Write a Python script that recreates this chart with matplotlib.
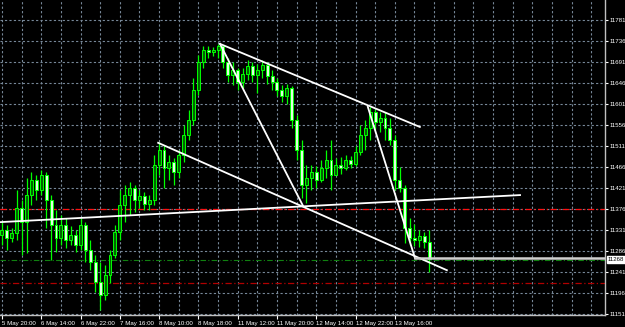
import matplotlib
matplotlib.use('Agg')
import matplotlib.pyplot as plt
import numpy as np

# hourly candles, DAX-like index (bar index on x, price on y)
opens = [11320, 11331, 11314, 11325, 11378, 11348, 11406, 11438, 11417, 11449,
         11395, 11342, 11314, 11342, 11310, 11320, 11299, 11342, 11288, 11263,
         11220, 11192, 11235, 11278, 11327, 11385, 11406, 11421, 11395, 11404,
         11387, 11395, 11470, 11503, 11464, 11477, 11455, 11492, 11535, 11567,
         11631, 11691, 11717, 11713, 11717, 11725, 11691, 11663, 11674, 11648,
         11665, 11683, 11663, 11674, 11685, 11661, 11648, 11631, 11618, 11635,
         11567, 11503, 11428, 11443, 11455, 11438, 11464, 11481, 11449, 11470,
         11464, 11481, 11473, 11498, 11535, 11550, 11584, 11563, 11571, 11550,
         11524, 11438, 11421, 11335, 11314, 11310, 11318, 11305]
closes = [11331, 11314, 11325, 11378, 11348, 11406, 11438, 11417, 11449, 11395,
          11342, 11314, 11342, 11310, 11320, 11299, 11342, 11288, 11263, 11220,
          11192, 11235, 11278, 11327, 11385, 11406, 11421, 11395, 11404, 11387,
          11395, 11470, 11503, 11464, 11477, 11455, 11492, 11535, 11567, 11631,
          11691, 11717, 11713, 11717, 11725, 11691, 11663, 11674, 11648, 11665,
          11683, 11663, 11674, 11685, 11661, 11648, 11631, 11618, 11635, 11567,
          11503, 11428, 11443, 11455, 11438, 11464, 11481, 11449, 11470, 11464,
          11481, 11473, 11498, 11535, 11550, 11584, 11563, 11571, 11550, 11524,
          11438, 11421, 11335, 11314, 11310, 11318, 11305, 11268]
highs = [11348, 11342, 11335, 11417, 11395, 11443, 11455, 11449, 11460, 11455,
         11406, 11374, 11363, 11357, 11340, 11331, 11357, 11348, 11310, 11278,
         11263, 11256, 11288, 11342, 11417, 11428, 11434, 11428, 11417, 11413,
         11406, 11492, 11520, 11513, 11492, 11485, 11503, 11556, 11588, 11657,
         11706, 11725, 11725, 11723, 11730, 11728, 11700, 11691, 11678, 11678,
         11695, 11691, 11687, 11695, 11691, 11674, 11657, 11642, 11644, 11640,
         11578, 11524, 11470, 11470, 11468, 11481, 11503, 11524, 11485, 11488,
         11492, 11490, 11511, 11556, 11567, 11595, 11590, 11584, 11584, 11571,
         11535, 11466, 11428, 11357, 11344, 11331, 11327, 11331]
lows = [11299, 11288, 11305, 11310, 11278, 11282, 11385, 11395, 11406, 11335,
        11267, 11284, 11299, 11293, 11299, 11284, 11288, 11263, 11245, 11198,
        11160, 11181, 11218, 11271, 11310, 11348, 11363, 11370, 11378, 11374,
        11374, 11385, 11449, 11421, 11438, 11428, 11443, 11477, 11524, 11556,
        11620, 11678, 11700, 11704, 11700, 11678, 11648, 11642, 11631, 11635,
        11653, 11648, 11625, 11657, 11644, 11631, 11618, 11605, 11601, 11550,
        11481, 11400, 11389, 11417, 11421, 11434, 11443, 11417, 11449, 11451,
        11460, 11464, 11468, 11492, 11503, 11524, 11545, 11541, 11524, 11513,
        11417, 11413, 11303, 11299, 11297, 11295, 11293, 11241]

tick_bars = [0, 8, 16, 24, 32, 40, 48, 56, 64, 72, 80]
tick_labels = ['5 May 20:00', '6 May 14:00', '6 May 22:00', '7 May 16:00',
               '8 May 10:00', '8 May 18:00', '11 May 12:00', '11 May 20:00',
               '12 May 14:00', '12 May 22:00', '13 May 16:00']
price_ticks = [11151, 11196, 11241, 11286, 11331, 11376, 11421, 11466,
               11511, 11556, 11601, 11646, 11691, 11736, 11781]
current_price = 11268
red_levels = [11376, 11218]
bid_level = 11267

# hand drawn trend lines: ((bar, price), (bar, price))
trend_lines = [((44.4, 11730), (85.1, 11552)),
               ((44.4, 11730), (61.3, 11383)),
               ((31.8, 11518), (90.6, 11245)),
               ((-0.4, 11348), (105.5, 11406)),
               ((74.5, 11595), (84.1, 11271))]
support_start = 84.1
support_level = 11272

fig = plt.figure(figsize=(6.25, 3.27), dpi=100, facecolor='black')
ax = fig.add_axes([0, 12 / 327, 605 / 625, 1 - 12 / 327])
ax.set_facecolor('black')

x = np.arange(len(closes))
o = np.array(opens)
c = np.array(closes)

# grid
for p in price_ticks:
    ax.axhline(p, color='#778899', lw=0.8, ls=(0, (2, 2)), zorder=0)
for b in range(0, 124, 4):
    ax.axvline(b, color='#778899', lw=0.8, ls=(0, (2, 2)), zorder=0)

# levels
for lvl, col in zip(red_levels, ['#ff1010', '#b00000']):
    ax.axhline(lvl, color=col, lw=0.9, ls=(0, (5, 2, 1, 2)), zorder=1)
ax.axhline(bid_level, color='#108010', lw=0.8, ls=(0, (5, 2, 1, 2)), zorder=1)

# candles
ax.vlines(x, lows, highs, color='#00ff00', lw=0.9, zorder=3)
bull = c >= o
body_lo = np.minimum(o, c)
body_h = np.maximum(np.abs(c - o), 1.5)
ax.bar(x[bull], body_h[bull], bottom=body_lo[bull], width=0.6,
       color='#006400', edgecolor='#00ff00', lw=0.7, zorder=4)
ax.bar(x[~bull], body_h[~bull], bottom=body_lo[~bull], width=0.6,
       color='#e0ffe0', edgecolor='#00ff00', lw=0.7, zorder=4)

# trend lines
for (x0, y0), (x1, y1) in trend_lines:
    ax.plot([x0, x1], [y0, y1], color='white', lw=1.3, zorder=5)
ax.plot([support_start, 123], [support_level, support_level], color='#d0d0d0', lw=1.8, zorder=5)

ax.set_xlim(-0.4, 122.8)
ax.set_ylim(11149, 11824)

for s in ['left', 'top']:
    ax.spines[s].set_visible(False)
for s in ['right', 'bottom']:
    ax.spines[s].set_color('#c0c0c0')
    ax.spines[s].set_linewidth(1)

font = ['Liberation Sans', 'DejaVu Sans']
ax.set_xticks(tick_bars)
ax.set_xticklabels(tick_labels, ha='left', family=font, fontsize=4.4, color='white')
ax.yaxis.tick_right()
ax.set_yticks(price_ticks)
ax.set_yticklabels([str(p) for p in price_ticks], family=font, fontsize=4.4, color='white')
ax.tick_params(axis='x', length=3, color='white', pad=1)
ax.tick_params(axis='y', length=2.5, color='white', pad=0.5)

ax.annotate(str(current_price), xy=(1.0, current_price), xycoords=('axes fraction', 'data'),
            xytext=(2.2, 0), textcoords='offset points', ha='left', va='center',
            family=font, fontsize=4.4, color='black',
            bbox=dict(boxstyle='square,pad=0.12', fc='white', ec='white'))

fig.savefig('out.png', dpi=100, facecolor='black')
